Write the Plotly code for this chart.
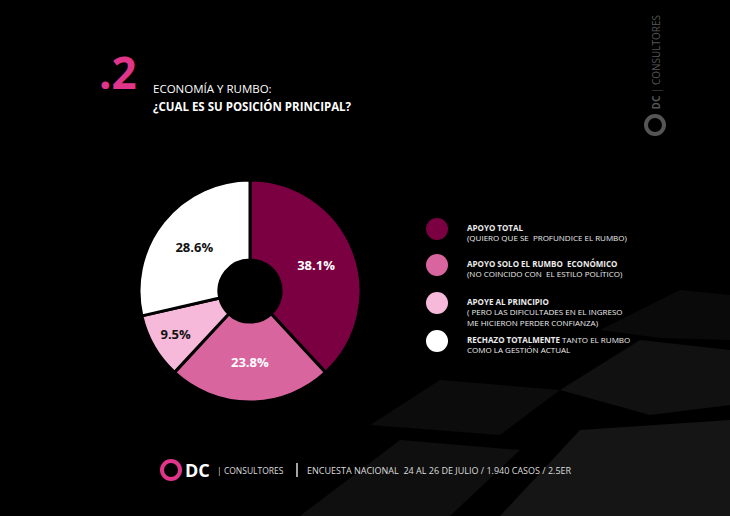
import plotly.graph_objects as go

# datos
labels = ["APOYO TOTAL", "APOYO SOLO EL RUMBO ECONÓMICO", "APOYE AL PRINCIPIO", "RECHAZO TOTALMENTE"]
values = [38.1, 23.8, 9.5, 28.6]
colors = ["#7a0041", "#d9659f", "#f7b9d9", "#ffffff"]
text_colors = ["#ffffff", "#ffffff", "#111111", "#111111"]

legend_bold = ["APOYO TOTAL", "APOYO SOLO EL RUMBO  ECONÓMICO", "APOYE AL PRINCIPIO", "RECHAZO TOTALMENTE"]
legend_rest = [
    "<br>(QUIERO QUE SE  PROFUNDICE EL RUMBO)",
    "<br>(NO COINCIDO CON  EL ESTILO POLÍTICO)",
    "<br>( PERO LAS DIFICULTADES EN EL INGRESO<br>ME HICIERON PERDER CONFIANZA)",
    " TANTO EL RUMBO<br>COMO LA GESTIÓN ACTUAL",
]

W, H = 730, 516
FONT = "Open Sans"
PINK = "#e0358a"


def px(x):
    return x / W


def py(y):
    return 1 - y / H


fig = go.Figure()

fig.add_trace(go.Pie(
    labels=labels,
    values=values,
    sort=False,
    direction="clockwise",
    rotation=0,
    hole=0.28,
    marker=dict(colors=colors, line=dict(color="#000000", width=3)),
    texttemplate="<b>%{value:.1f}%</b>",
    textposition="inside",
    insidetextorientation="horizontal",
    textfont=dict(family=FONT, size=13, color=text_colors),
    domain=dict(x=[px(136), px(364)], y=[py(402), py(180)]),
    showlegend=False,
    hoverinfo="label+percent",
))

shapes = []
annotations = []

# fondo: bloques grises tenues abajo a la derecha
blocks = [
    ("M 300 516 L 400 440 L 520 450 L 450 516 Z", 0.16),
    ("M 500 516 L 580 430 L 730 420 L 730 516 Z", 0.22),
    ("M 560 390 L 640 340 L 730 350 L 730 405 L 650 415 Z", 0.18),
    ("M 370 425 L 440 380 L 560 390 L 500 435 Z", 0.12),
    ("M 600 330 L 680 290 L 730 295 L 730 340 L 660 338 Z", 0.10),
]
for p, a in blocks:
    shapes.append(dict(type="path", path=p, xref="x", yref="y", layer="below",
                       fillcolor="rgba(95,95,95,%.2f)" % a, line=dict(width=0)))

# leyenda manual
legend_y = [229, 265, 303, 341]
for i in range(4):
    cy = legend_y[i]
    shapes.append(dict(type="circle", xref="x", yref="y",
                       x0=426, x1=448, y0=cy - 11, y1=cy + 11,
                       fillcolor=colors[i], line=dict(width=0)))
    annotations.append(dict(
        x=465, y=cy - 9, xref="x", yref="y", xanchor="left", yanchor="top",
        align="left", showarrow=False,
        text="<b>" + legend_bold[i] + "</b>" + legend_rest[i],
        font=dict(family=FONT, size=8, color="#ececec"),
    ))

# titulo
annotations.append(dict(x=97, y=104, xref="x", yref="y", xanchor="left", yanchor="bottom",
                        text="<b>.2</b>", showarrow=False,
                        font=dict(family=FONT, size=44, color=PINK)))
annotations.append(dict(x=152, y=97, xref="x", yref="y", xanchor="left", yanchor="bottom",
                        showarrow=False, text="ECONOMÍA Y RUMBO:", borderpad=0,
                        font=dict(family=FONT, size=11.5, color="#ffffff")))
annotations.append(dict(x=152, y=98, xref="x", yref="y", xanchor="left", yanchor="top",
                        showarrow=False, text="<b>¿CUAL ES SU POSICIÓN PRINCIPAL?</b>", borderpad=0,
                        font=dict(family=FONT, size=11.5, color="#ffffff")))

# logo vertical derecha
shapes.append(dict(type="circle", xref="x", yref="y", x0=646, x1=664, y0=116, y1=134,
                   fillcolor="rgba(0,0,0,0)", line=dict(color="#555555", width=4)))
annotations.append(dict(x=655, y=112, xref="x", yref="y", xanchor="center", yanchor="bottom",
                        showarrow=False, textangle=-90,
                        text="<b>DC</b> | CONSULTORES",
                        font=dict(family=FONT, size=10, color="#555555")))

# pie de pagina
shapes.append(dict(type="circle", xref="x", yref="y", x0=162, x1=180, y0=461, y1=479,
                   fillcolor="rgba(0,0,0,0)", line=dict(color=PINK, width=4)))
annotations.append(dict(x=183, y=470, xref="x", yref="y", xanchor="left", yanchor="middle",
                        showarrow=False, text="<b>DC</b>",
                        font=dict(family=FONT, size=18, color="#ffffff")))
annotations.append(dict(x=215, y=470, xref="x", yref="y", xanchor="left", yanchor="middle",
                        showarrow=False, text="| CONSULTORES",
                        font=dict(family=FONT, size=8.5, color="#dddddd")))
shapes.append(dict(type="line", xref="x", yref="y", x0=297, x1=297, y0=463, y1=477,
                   line=dict(color="#dddddd", width=1.5)))
annotations.append(dict(x=305, y=470, xref="x", yref="y", xanchor="left", yanchor="middle",
                        showarrow=False,
                        text="ENCUESTA NACIONAL  24 AL 26 DE JULIO / 1.940 CASOS / 2.5ER",
                        font=dict(family=FONT, size=9, color="#dddddd")))

fig.update_layout(
    width=W, height=H,
    margin=dict(l=0, r=0, t=0, b=0),
    paper_bgcolor="#000000",
    plot_bgcolor="#000000",
    xaxis=dict(range=[0, W], visible=False, fixedrange=True),
    yaxis=dict(range=[H, 0], visible=False, fixedrange=True),
    shapes=shapes,
    annotations=annotations,
)

fig.write_html("out.html", config={"displayModeBar": False},
               post_script="document.body.style.margin='0';document.body.style.background='#000';")
